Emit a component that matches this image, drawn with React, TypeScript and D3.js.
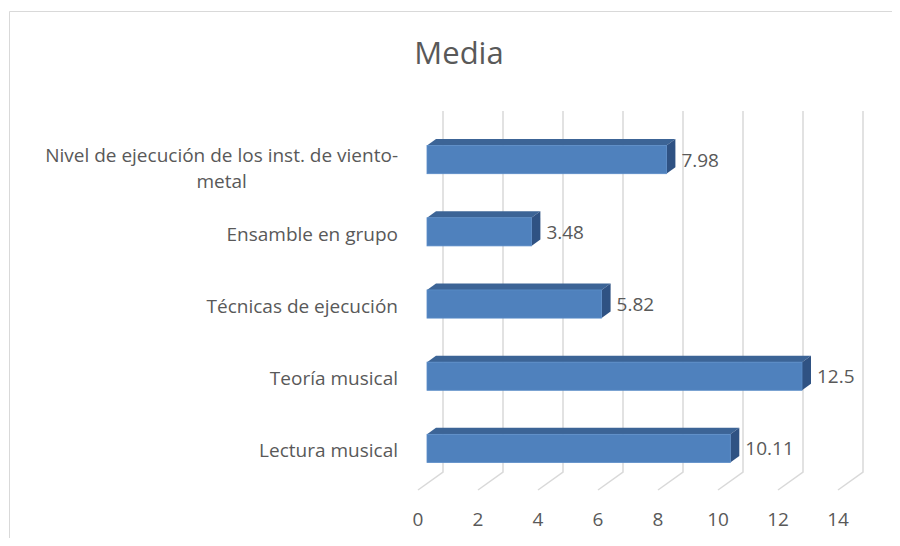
import { useRef, useEffect } from 'react'
import * as d3 from 'd3'

const categories = [
  ['Nivel de ejecución de los inst. de viento-', 'metal'],
  ['Ensamble en grupo'],
  ['Técnicas de ejecución'],
  ['Teoría musical'],
  ['Lectura musical'],
]
const values = [7.98, 3.48, 5.82, 12.5, 10.11]
const valueLabels = ['7.98', '3.48', '5.82', '12.5', '10.11']
const ticks = [0, 2, 4, 6, 8, 10, 12, 14]
const title = 'Media'

export default function App() {
  const svgRef = useRef<SVGSVGElement>(null)

  useEffect(() => {
    if (!svgRef.current) return
    const W = 900
    const H = 546
    const svg = d3.select(svgRef.current)
    svg.selectAll('*').remove()
    svg.attr('width', W).attr('height', H)

    const font = '"Open Sans", "Noto Sans", sans-serif'
    const textColor = '#595959'
    const fs = '19px'

    // chart frame
    svg.append('rect').attr('width', W).attr('height', H).attr('fill', '#fff')
    svg.append('path')
      .attr('d', `M9.5,${H} V11.5 H${W}`)
      .attr('fill', 'none')
      .attr('stroke', '#d9d9d9')

    // back wall geometry + depth vector (back -> front)
    const x = d3.scaleLinear().domain([0, 14]).range([443, 863])
    const top = 111
    const floor = 472
    const depth = { dx: -25, dy: 18 }
    const fBack = 0.28
    const fFront = 0.64

    const keys = categories.map((c) => c.join(' '))
    const y = d3.scaleBand<string>()
      .domain(keys)
      .range([top + 1, floor + 1])
      .paddingInner(0.61)
      .paddingOuter(0.305)

    svg.append('text')
      .attr('x', 459)
      .attr('y', 64)
      .attr('text-anchor', 'middle')
      .attr('fill', textColor)
      .attr('font-family', font)
      .attr('font-size', '31px')
      .text(title)

    // gridlines
    const grid = svg.append('g').attr('fill', 'none').attr('stroke', '#d9d9d9').attr('stroke-width', 1.5)
    ticks.forEach((t) => {
      const xb = x(t)
      grid.append('path')
        .attr('d', `M${xb},${top} V${floor} L${xb + depth.dx},${floor + depth.dy}`)
    })

    // tick labels
    svg.append('g')
      .selectAll('text')
      .data(ticks)
      .join('text')
      .attr('x', (d) => x(d) + depth.dx)
      .attr('y', 526)
      .attr('text-anchor', 'middle')
      .attr('fill', textColor)
      .attr('font-family', font)
      .attr('font-size', fs)
      .text((d) => String(d))

    // bars
    const bars = svg.append('g')
    values.forEach((v, i) => {
      const y0 = y(keys[i])!
      const bw = y.bandwidth()
      const fx = x(0) + depth.dx * fFront
      const fx1 = x(v) + depth.dx * fFront
      const fy = y0 + depth.dy * fFront
      const ddx = depth.dx * (fBack - fFront)
      const ddy = depth.dy * (fBack - fFront)
      // top face
      bars.append('path')
        .attr('d', `M${fx},${fy} L${fx + ddx},${fy + ddy} L${fx1 + ddx},${fy + ddy} L${fx1},${fy} Z`)
        .attr('fill', '#3c6496')
      // side face
      bars.append('path')
        .attr('d', `M${fx1},${fy} L${fx1 + ddx},${fy + ddy} L${fx1 + ddx},${fy + ddy + bw} L${fx1},${fy + bw} Z`)
        .attr('fill', '#2f5283')
      // front face
      bars.append('rect')
        .attr('x', fx)
        .attr('y', fy)
        .attr('width', fx1 - fx)
        .attr('height', bw)
        .attr('fill', '#4f81bd')
        .attr('stroke', '#5a8cc8')
        .attr('stroke-width', 0.8)

      bars.append('text')
        .attr('x', fx1 + ddx + 6)
        .attr('y', fy + bw / 2 + 7)
        .attr('fill', textColor)
        .attr('font-family', font)
        .attr('font-size', fs)
        .text(valueLabels[i])
    })

    // category labels
    const labels = svg.append('g')
      .attr('fill', textColor)
      .attr('font-family', font)
      .attr('font-size', fs)
    categories.forEach((lines, i) => {
      const cy = y(keys[i])! + y.bandwidth() / 2 + depth.dy * 0.75
      const lh = 26
      const y1 = cy + 7 - ((lines.length - 1) * lh) / 4
      const g = labels.append('g')
      const first = g.append('text')
        .attr('x', 398)
        .attr('y', y1)
        .attr('text-anchor', 'end')
        .text(lines[0])
      if (lines.length > 1) {
        const w = (first.node() as SVGTextElement).getComputedTextLength()
        lines.slice(1).forEach((ln, j) => {
          g.append('text')
            .attr('x', 398 - w / 2)
            .attr('y', y1 + lh * (j + 1))
            .attr('text-anchor', 'middle')
            .text(ln)
        })
      }
    })

    return () => {
      svg.selectAll('*').remove()
    }
  }, [])

  return (
    <div style={{ margin: -8 }}>
      <svg ref={svgRef} style={{ display: 'block' }} />
    </div>
  )
}
